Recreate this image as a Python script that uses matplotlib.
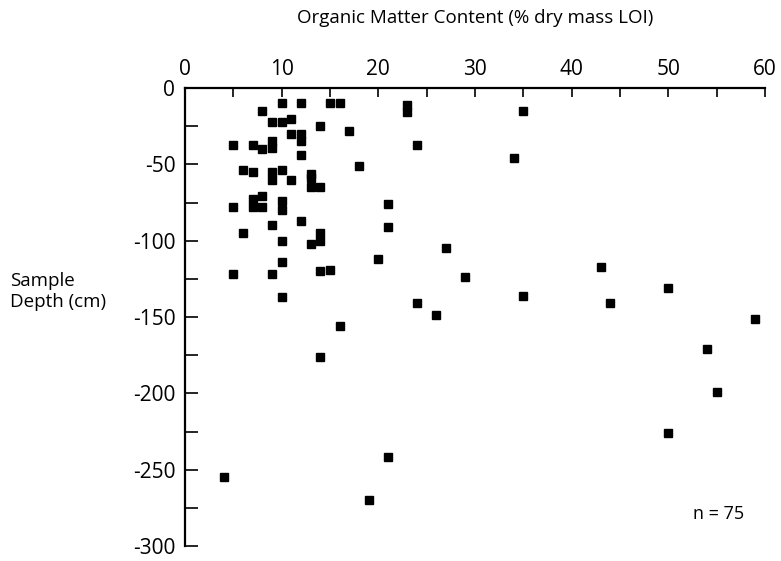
import matplotlib
matplotlib.use('Agg')
import matplotlib.pyplot as plt
from matplotlib.ticker import MultipleLocator

plt.rcParams['font.family'] = ['Open Sans', 'DejaVu Sans']
plt.rcParams['axes.unicode_minus'] = False

# organic matter (% LOI) and sample depth (cm)
organic = [10, 12, 15, 16, 23, 23, 35, 8, 9, 10, 11, 14, 17, 11, 12, 12, 9, 9, 5, 7,
           8, 24, 34, 12, 18, 6, 7, 9, 9, 10, 11, 13, 13, 13, 14, 8, 5, 7, 7, 8,
           10, 10, 21, 9, 12, 21, 6, 14, 10, 13, 14, 27, 20, 10, 43, 5, 9, 14, 15, 29,
           50, 10, 35, 24, 44, 26, 59, 16, 54, 14, 55, 50, 21, 4, 19]
depth = [-10, -10, -10, -10, -11, -16, -15, -15, -22, -22, -20, -25, -28, -30, -30, -35, -35, -39, -37, -37,
         -40, -37, -46, -44, -51, -54, -55, -55, -60, -54, -60, -56, -59, -65, -65, -71, -78, -73, -78, -78,
         -74, -80, -76, -90, -87, -91, -95, -95, -100, -102, -100, -105, -112, -114, -117, -122, -122, -120, -119, -124,
         -131, -137, -136, -141, -141, -149, -151, -156, -171, -176, -199, -226, -242, -255, -270]

fig = plt.figure(figsize=(7.81, 5.61), dpi=100)
ax = fig.add_axes([0.2369, 0.0267, 0.7426, 0.8164])

ax.plot(organic, depth, 's', color='black', ms=5.5, clip_on=False)

ax.set_xlim(0, 60)
ax.set_ylim(-300, 0)

ax.xaxis.tick_top()
ax.xaxis.set_major_locator(MultipleLocator(10))
ax.xaxis.set_minor_locator(MultipleLocator(5))
ax.yaxis.set_major_locator(MultipleLocator(50))
ax.yaxis.set_minor_locator(MultipleLocator(25))

ax.tick_params(axis='x', which='both', direction='in', length=6.5, width=1.2, labelsize=15, pad=6)
ax.tick_params(axis='y', which='both', direction='in', length=9.5, width=1.2, labelsize=15, pad=7)

for s in ['right', 'bottom']:
    ax.spines[s].set_visible(False)
for s in ['left', 'top']:
    ax.spines[s].set_linewidth(1.6)

fig.text(0.609, 0.968, 'Organic Matter Content (% dry mass LOI)', fontsize=13.5,
         ha='center', va='center')
fig.text(0.013, 0.48, 'Sample\nDepth (cm)', fontsize=13.5, ha='left', va='center', linespacing=1.25)
ax.text(55.2, -279, 'n = 75', fontsize=13, ha='center', va='center')

fig.savefig('out.png', dpi=100)
